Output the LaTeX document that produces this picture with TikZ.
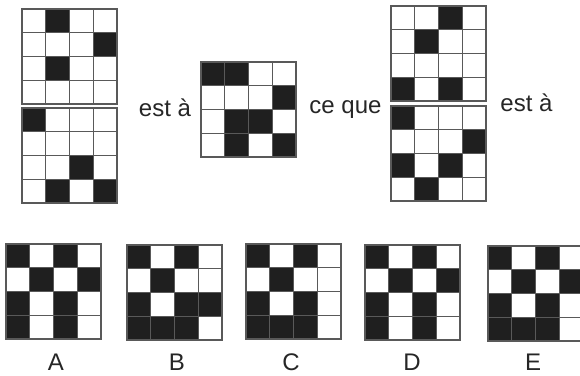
\documentclass[tikz,border=0pt]{standalone}
\usepackage{fontspec}
\setmainfont{Liberation Sans}
\usetikzlibrary{positioning}

\begin{document}
\begin{tikzpicture}[
    x=1pt, y=-1pt,
    cell/.style={draw=black!65, line width=1.3pt, fill=white, minimum size=23.75pt, inner sep=0pt},
    blackcell/.style={cell, fill=black!88},
    label/.style={font=\fontsize{24}{28}\selectfont, text=black!85, inner sep=0pt, anchor=base}
]
\useasboundingbox (0,0) rectangle (580,375);

% Grilles : nom / coin haut-gauche / cases noires (ligne/colonne)
\foreach \nom/\gx/\gy/\noirs in {
    g1/22/9/{0/1,1/3,2/1},
    g2/22/108/{0/0,2/2,3/1,3/3},
    g3/201/62/{0/0,0/1,1/3,2/1,2/2,3/1,3/3},
    g4/391/6/{0/2,1/1,3/0,3/2},
    g5/391/106/{0/0,1/3,2/0,2/2,3/1},
    A/6/244/{0/0,0/2,1/1,1/3,2/0,2/2,3/0,3/2},
    B/127/245/{0/0,0/2,1/1,2/0,2/2,2/3,3/0,3/1,3/2},
    C/246/244/{0/0,0/2,1/1,2/0,2/2,3/0,3/1,3/2},
    D/365/245/{0/0,0/2,1/1,1/3,2/0,2/2,3/0,3/2},
    E/488/246/{0/0,0/2,1/1,1/3,2/0,2/2,3/0,3/1,3/2}} {
    \begin{scope}[shift={(\gx,\gy)}]
        \foreach \r in {0,...,3} {
            \foreach \c in {0,...,3} {
                \node[cell] (\nom-\r-\c) at (\c*23.75+11.875, \r*23.75+11.875) {};
            }
        }
        \foreach \r/\c in \noirs {
            \node[blackcell] (\nom-n\r-\c) at (\c*23.75+11.875, \r*23.75+11.875) {};
        }
    \end{scope}
}

% Texte
\node[label] (esta1) at (165,116) {est à};
\node[label] (ceque) at (345.5,113) {ce que};
\node[label] (esta2) at (526.5,111) {est à};

% Reponses
\node[label] (labA) at (56,370) {A};
\node[label] (labB) at (177,370) {B};
\node[label] (labC) at (291,370) {C};
\node[label] (labD) at (412,370) {D};
\node[label] (labE) at (533,370) {E};

\end{tikzpicture}
\end{document}
